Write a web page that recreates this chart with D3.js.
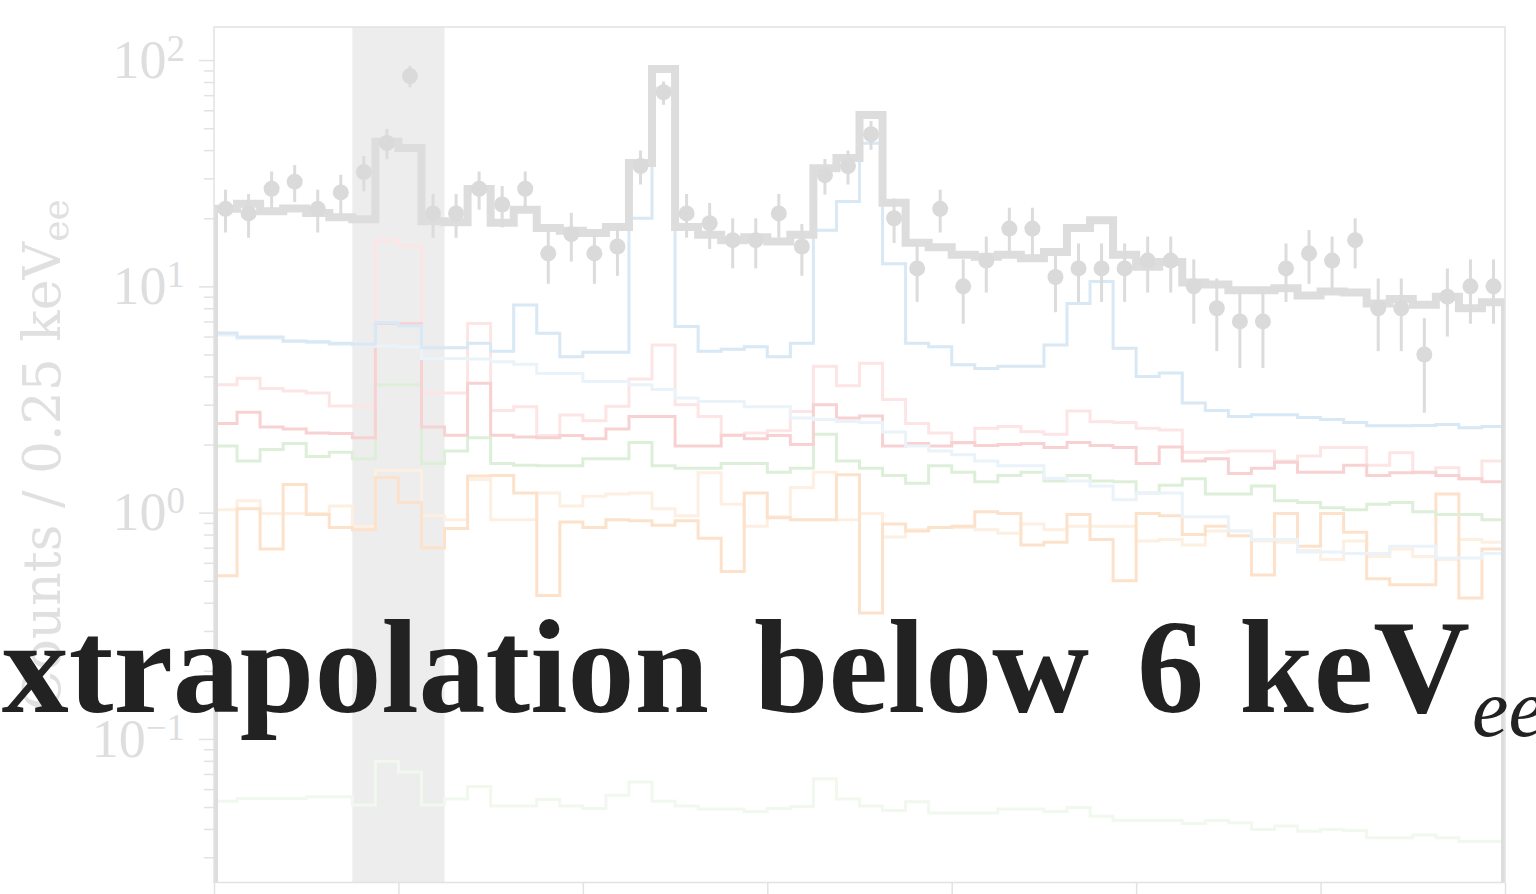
<!DOCTYPE html>
<html>
<head>
<meta charset="utf-8">
<script src="https://cdn.jsdelivr.net/npm/d3@7"></script>
<style>
  html, body { margin: 0; padding: 0; background: #ffffff; overflow: hidden; }
  svg { display: block; }
</style>
</head>
<body>
<svg id="chart" width="1536" height="894"></svg>
<script>
// ---- binning (keV_ee) ----
const binStart = 2;
const binWidth = 0.25;
const xTickValues = [2, 4, 6, 8, 10, 12, 14, 16];
const yMajorTicks = [0.1, 1, 10, 100];
const yMajorExponents = ["\u22121", "0", "1", "2"];
const excludedRange = [3.5, 4.5];

// ---- measured counts per bin ----
const observed = [22, 21, 27, 29, 22, 26, 32, 43, 85, 21,
                  21, 27, 23, 27, 14, 17, 14, 15, 34, 72,
                  21, 19, 16, 16, 21, 15, 31, 34, 47, 20,
                  12, 22, 10, 13, 18, 18, 11, 12, 12, 12,
                  13, 13, 10, 8, 7, 7, 12, 14, 13, 16,
                  8, 8, 5, 9, 10, 10];

// ---- fitted model: total ----
const totalModel = [22.0, 23.2, 21.5, 22.1, 21.1, 20.2, 19.8, 43.5, 40.9, 19.4,
                    19.2, 26.9, 19.1, 21.8, 18.1, 17.6, 17.2, 18.3, 35.1, 91.3,
                    18.3, 16.9, 16.0, 16.5, 15.8, 16.9, 33.3, 36.9, 57.2, 23.4,
                    15.6, 14.9, 13.8, 13.5, 13.8, 13.3, 14.2, 18.1, 19.6, 13.8,
                    12.2, 12.8, 10.4, 10.2, 9.6, 9.6, 9.8, 9.1, 9.5, 9.4,
                    8.4, 8.8, 8.3, 9.0, 8.0, 8.5];

// ---- fitted model: components ----
const compBlue = [6.22, 5.97, 5.97, 5.74, 5.69, 5.60, 5.55, 6.90, 6.70, 5.35,
                  5.35, 5.60, 5.16, 8.27, 6.21, 4.89, 5.12, 5.12, 20.0, 75.0,
                  6.64, 5.16, 5.27, 5.41, 4.89, 5.60, 17.7, 23.7, 42.9, 12.6,
                  5.60, 5.41, 4.50, 4.34, 4.43, 4.43, 5.50, 8.40, 10.5, 5.32,
                  4.00, 4.14, 3.05, 2.83, 2.66, 2.71, 2.71, 2.63, 2.58, 2.50,
                  2.42, 2.42, 2.43, 2.45, 2.37, 2.40];
const compSky = [6.10, 5.90, 5.90, 5.70, 5.65, 5.55, 5.50, 5.45, 5.40, 4.80,
                 4.80, 4.78, 4.64, 4.53, 4.12, 4.12, 3.80, 3.80, 3.67, 3.50,
                 3.21, 3.10, 3.10, 2.94, 2.94, 2.62, 2.58, 2.53, 2.50, 2.27,
                 1.97, 1.87, 1.80, 1.69, 1.61, 1.61, 1.42, 1.38, 1.31, 1.14,
                 1.22, 1.22, 0.96, 0.96, 0.83, 0.76, 0.76, 0.67, 0.67, 0.66,
                 0.66, 0.71, 0.71, 0.63, 0.63, 0.66];
const compPink = [3.67, 3.93, 3.54, 3.45, 3.38, 2.96, 2.96, 16.0, 15.1, 3.38,
                  3.38, 6.85, 2.83, 2.94, 2.19, 2.70, 2.55, 2.95, 3.90, 5.50,
                  3.00, 2.66, 2.20, 2.25, 2.30, 2.80, 4.43, 3.64, 4.57, 3.16,
                  2.48, 2.25, 2.03, 2.36, 2.40, 2.28, 2.22, 2.81, 2.52, 2.50,
                  2.36, 2.32, 1.85, 1.85, 1.87, 1.87, 1.69, 1.78, 1.94, 1.94,
                  1.62, 1.84, 1.50, 1.58, 1.41, 1.69];
const compRed = [2.48, 2.78, 2.39, 2.34, 2.25, 2.24, 2.14, 6.85, 6.85, 2.39,
                 2.20, 3.73, 2.20, 2.16, 2.14, 2.19, 2.12, 2.34, 2.66, 2.66,
                 1.97, 1.97, 2.20, 2.12, 2.19, 2.00, 3.00, 2.62, 2.67, 1.97,
                 2.02, 1.97, 2.04, 1.98, 2.00, 2.02, 1.94, 2.04, 1.98, 1.94,
                 1.65, 1.95, 1.69, 1.73, 1.49, 1.57, 1.67, 1.51, 1.51, 1.62,
                 1.46, 1.50, 1.51, 1.46, 1.41, 1.37];
const compGreen = [1.97, 1.69, 1.90, 2.02, 1.77, 1.85, 1.73, 3.67, 3.67, 1.65,
                   1.87, 2.14, 1.65, 1.62, 1.61, 1.61, 1.73, 1.73, 2.04, 1.61,
                   1.57, 1.57, 1.65, 1.65, 1.51, 1.57, 2.22, 1.69, 1.57, 1.46,
                   1.35, 1.61, 1.51, 1.37, 1.46, 1.51, 1.38, 1.46, 1.38, 1.37,
                   1.22, 1.32, 1.41, 1.21, 1.21, 1.31, 1.13, 1.11, 1.05, 1.03,
                   1.09, 1.11, 1.01, 0.98, 0.98, 0.93];
const compOrange = [0.526, 1.04, 0.69, 1.33, 0.98, 0.86, 0.84, 1.43, 1.11, 0.70,
                    0.85, 1.45, 1.46, 1.22, 0.43, 0.91, 0.86, 0.93, 0.92, 0.88,
                    0.92, 0.77, 0.55, 1.22, 0.95, 0.93, 0.93, 1.47, 0.36, 0.89,
                    0.83, 0.86, 0.87, 1.01, 0.99, 0.72, 0.74, 0.98, 0.76, 0.50,
                    0.99, 0.97, 0.80, 0.87, 0.79, 0.53, 0.99, 0.71, 0.99, 0.82,
                    0.51, 0.48, 0.48, 1.21, 0.42, 0.69];
const compPeach = [1.03, 1.13, 0.99, 0.99, 0.99, 1.07, 0.87, 1.54, 1.54, 0.97,
                   0.93, 1.40, 0.93, 0.93, 1.22, 1.07, 1.18, 1.21, 1.22, 1.04,
                   0.97, 1.50, 1.09, 0.87, 0.96, 1.29, 1.51, 0.93, 0.99, 0.78,
                   0.84, 0.86, 0.86, 0.84, 0.81, 0.89, 0.84, 0.87, 0.87, 0.87,
                   0.75, 0.76, 0.72, 0.83, 0.83, 0.75, 0.74, 0.68, 0.62, 0.75,
                   0.64, 0.69, 0.64, 0.62, 0.76, 0.74];
const compMint = [0.053, 0.0545, 0.0545, 0.0545, 0.0555, 0.0555, 0.051, 0.0797, 0.0715, 0.051,
                  0.0542, 0.0616, 0.0505, 0.0505, 0.054, 0.0505, 0.0492, 0.0564, 0.0645, 0.053,
                  0.0505, 0.049, 0.049, 0.0478, 0.0492, 0.0503, 0.0667, 0.0542, 0.0505, 0.0483,
                  0.0528, 0.0471, 0.0471, 0.0471, 0.049, 0.049, 0.0478, 0.0498, 0.0455, 0.0436,
                  0.0436, 0.0436, 0.0423, 0.0436, 0.0426, 0.0398, 0.0412, 0.0391, 0.0398, 0.0394,
                  0.0366, 0.0366, 0.0376, 0.0366, 0.0352, 0.0352];

// ---- headline words ----
const headlineWords = ["Extrapolation", "below", "6", "keV"];
const headlineSubscript = "ee";

// ---- layout ----
const svg = d3.select("#chart");
const plot = { left: 214, right: 1505, top: 27, bottom: 882.5 };

const x = d3.scaleLinear().domain([binStart, binStart + observed.length * binWidth])
  .range([plot.left, plot.right]);
const y = d3.scaleLog().domain([0.0232, 140]).range([plot.bottom, plot.top]);

const edges = d3.range(observed.length + 1).map(i => binStart + i * binWidth);
const centers = observed.map((_, i) => binStart + (i + 0.5) * binWidth);

svg.append("defs").append("clipPath").attr("id", "plotClip")
  .append("rect")
  .attr("x", plot.left).attr("y", plot.top)
  .attr("width", plot.right - plot.left).attr("height", plot.bottom - plot.top);

// excluded energy window
svg.append("rect")
  .attr("x", x(excludedRange[0])).attr("y", plot.top)
  .attr("width", x(excludedRange[1]) - x(excludedRange[0]))
  .attr("height", plot.bottom - plot.top)
  .attr("fill", "#ededed");

// step outline of a binned series, closed down to the axis floor at both ends
const stepLine = d3.line().curve(d3.curveStepAfter);
function stepPoints(vals) {
  const pts = [[x(edges[0]), plot.bottom]];
  vals.forEach((v, i) => pts.push([x(edges[i]), y(v)]));
  pts.push([x(edges[edges.length - 1]), y(vals[vals.length - 1])]);
  pts.push([x(edges[edges.length - 1]), plot.bottom]);
  return pts;
}

const layer = svg.append("g").attr("clip-path", "url(#plotClip)");

const components = [
  { vals: compMint,   color: "#f1f8ee" },
  { vals: compPeach,  color: "#fdf0e2" },
  { vals: compOrange, color: "#fde2cb" },
  { vals: compGreen,  color: "#ddefd9" },
  { vals: compPink,   color: "#fde5e5" },
  { vals: compRed,    color: "#f8d2d2" },
  { vals: compSky,    color: "#eaf3f9" },
  { vals: compBlue,   color: "#d8e8f4" }
];

layer.selectAll("path.comp")
  .data(components)
  .join("path")
  .attr("class", "comp")
  .attr("d", d => stepLine(stepPoints(d.vals)))
  .attr("fill", "none")
  .attr("stroke", d => d.color)
  .attr("stroke-width", 3)
  .attr("stroke-linejoin", "miter");

layer.append("path")
  .attr("d", stepLine(stepPoints(totalModel)))
  .attr("fill", "none")
  .attr("stroke", "#dddddd")
  .attr("stroke-width", 8)
  .attr("stroke-linejoin", "miter");

// data with Poisson (sqrt N) uncertainties
const pts = layer.append("g");
pts.selectAll("line")
  .data(observed)
  .join("line")
  .attr("x1", (d, i) => x(centers[i])).attr("x2", (d, i) => x(centers[i]))
  .attr("y1", d => y(d + Math.sqrt(d)))
  .attr("y2", d => y(Math.max(d - Math.sqrt(d), 1e-3)))
  .attr("stroke", "#dcdcdc").attr("stroke-width", 3);
pts.selectAll("circle")
  .data(observed)
  .join("circle")
  .attr("cx", (d, i) => x(centers[i]))
  .attr("cy", d => y(d))
  .attr("r", 8)
  .attr("fill", "#dadada");

// ---- frame and axes ----
const axisColor = "#e2e2e2";
const labelColor = "#dedede";
const serif = "'Liberation Serif', 'DejaVu Serif', serif";

svg.append("rect")
  .attr("x", plot.left).attr("y", plot.top)
  .attr("width", plot.right - plot.left).attr("height", plot.bottom - plot.top)
  .attr("fill", "none").attr("stroke", axisColor).attr("stroke-width", 1.5);

const yMinor = y.ticks().filter(v => !yMajorTicks.some(m => Math.abs(v / m - 1) < 1e-6));
const gMinor = svg.append("g").attr("transform", `translate(${plot.left},0)`)
  .call(d3.axisLeft(y).tickValues(yMinor).tickSize(10).tickFormat(""));
const gMajor = svg.append("g").attr("transform", `translate(${plot.left},0)`)
  .call(d3.axisLeft(y).tickValues(yMajorTicks).tickSize(15).tickPadding(14)
        .tickFormat(() => ""));
[gMinor, gMajor].forEach(g => {
  g.select(".domain").remove();
  g.selectAll(".tick line").attr("stroke", axisColor).attr("stroke-width", 1.5);
});
gMajor.selectAll(".tick text")
  .attr("fill", labelColor)
  .attr("font-family", serif)
  .attr("font-size", 54)
  .each(function (d, i) {
    const t = d3.select(this);
    t.text(null);
    t.append("tspan").text("10");
    t.append("tspan").attr("dy", -17).attr("font-size", 37).text(yMajorExponents[i]);
  });

// energy axis: the tick marks run past the lower edge of the view
const gx = svg.append("g").attr("transform", `translate(0,${plot.bottom})`)
  .call(d3.axisBottom(x).tickValues(xTickValues).tickSize(14).tickFormat(""));
gx.select(".domain").remove();
gx.selectAll(".tick line").attr("stroke", axisColor).attr("stroke-width", 1.5);
gx.selectAll(".tick text").remove();

// y-axis title
const yTitle = svg.append("text")
  .attr("transform", `translate(60,${(plot.top + plot.bottom) / 2}) rotate(-90)`)
  .attr("text-anchor", "middle")
  .attr("fill", "#e0e0e0")
  .attr("font-family", "'DejaVu Serif', serif")
  .attr("font-size", 52);
yTitle.append("tspan").text("Counts / 0.25 keV");
yTitle.append("tspan").attr("dy", 8).attr("font-size", 36).text("ee");

// ---- headline, set word by word ----
const headline = svg.append("g")
  .attr("fill", "#222222")
  .attr("font-family", "'Liberation Serif', serif")
  .attr("font-weight", "bold")
  .attr("font-size", 134);
const wordAnchors = [
  { x: 709,  anchor: "end" },
  { x: 754,  anchor: "start" },
  { x: 1137, anchor: "start" },
  { x: 1470, anchor: "end" }
];
headline.selectAll("text")
  .data(headlineWords)
  .join("text")
  .attr("x", (d, i) => wordAnchors[i].x)
  .attr("y", 712)
  .attr("text-anchor", (d, i) => wordAnchors[i].anchor)
  .text(d => d);
svg.append("text")
  .attr("x", 1472).attr("y", 736)
  .attr("fill", "#222222")
  .attr("font-family", "'Liberation Serif', serif")
  .attr("font-style", "italic")
  .attr("font-size", 82)
  .text(headlineSubscript);
</script>
</body>
</html>
